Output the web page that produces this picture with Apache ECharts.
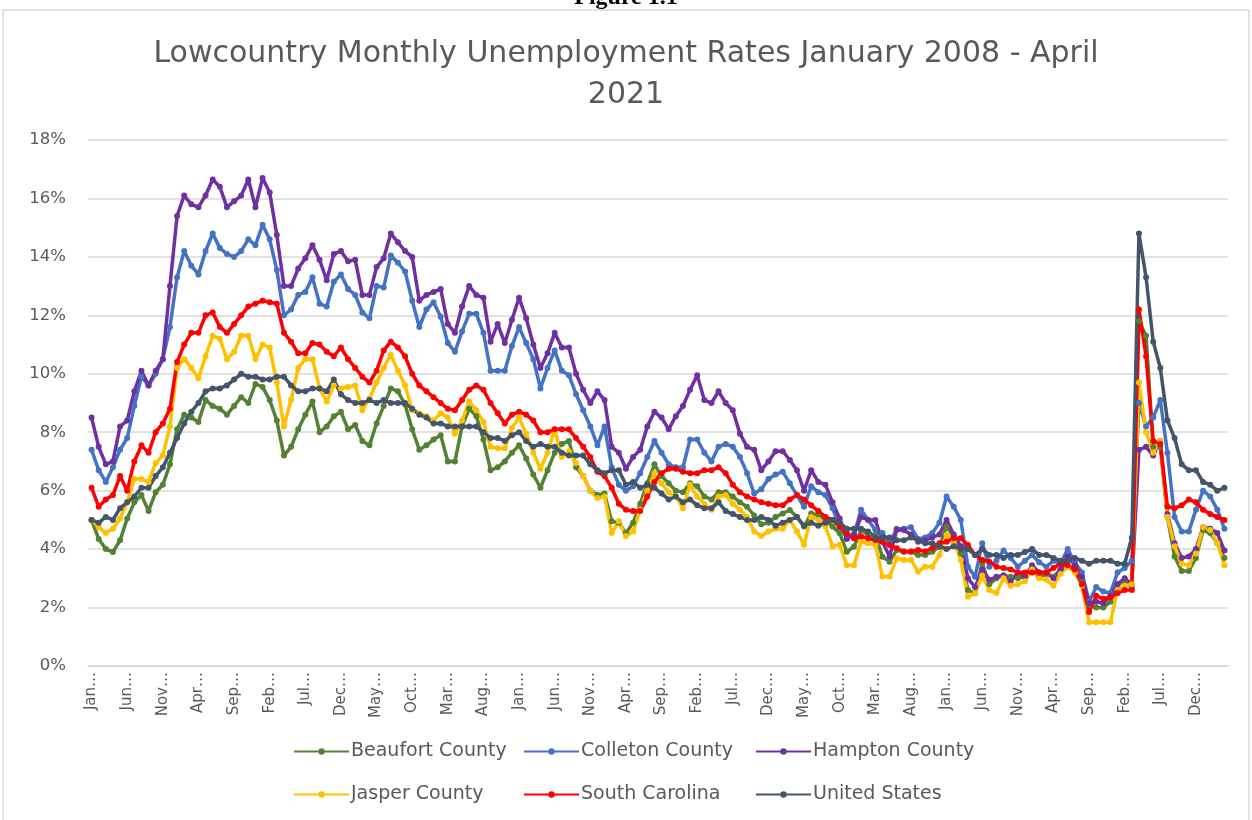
<!DOCTYPE html>
<html>
<head>
<meta charset="utf-8">
<title>Lowcountry Monthly Unemployment Rates</title>
<script src="https://cdn.jsdelivr.net/npm/echarts@6/dist/echarts.min.js"></script>
<style>
  html, body { margin: 0; padding: 0; background: #fff; }
  #chart { width: 1252px; height: 820px; }
</style>
</head>
<body>
<div id="chart"></div>
<script>
// months Jan 2008 - Apr 2021
var monthNames = ["Jan", "Feb", "Mar", "Apr", "May", "Jun", "Jul", "Aug", "Sep", "Oct", "Nov", "Dec"];
var years = ["08", "09", "10", "11", "12", "13", "14", "15", "16", "17", "18", "19", "20", "21"];
var lastMonths = 4; // 2021 stops at April

var seriesNames = ["Beaufort County", "Colleton County", "Hampton County", "Jasper County", "South Carolina", "United States"];
var seriesColors = ["#548235", "#4472C4", "#7030A0", "#FFC000", "#FF0000", "#44546A"];

// unemployment rate, percent (one row per year)
var beaufort = [
  5.0, 4.35, 4.0, 3.9, 4.3, 5.05, 5.6, 5.85, 5.3, 5.95, 6.2, 6.9,
  8.1, 8.6, 8.5, 8.35, 9.1, 8.9, 8.8, 8.6, 8.9, 9.2, 9.0, 9.65,
  9.55, 9.1, 8.4, 7.2, 7.5, 8.1, 8.6, 9.05, 8.0, 8.2, 8.55, 8.7,
  8.1, 8.25, 7.7, 7.55, 8.3, 8.9, 9.5, 9.4, 8.95, 8.1, 7.4, 7.55,
  7.75, 7.9, 7.0, 7.0, 8.2, 8.8, 8.55, 7.75, 6.7, 6.8, 7.0, 7.3,
  7.55, 7.1, 6.55, 6.1, 6.7, 7.3, 7.6, 7.7, 6.8, 6.5, 6.0, 5.85,
  5.9, 4.95, 4.9, 4.55, 4.9, 5.55, 6.25, 6.9, 6.5, 6.25, 6.0, 5.95,
  6.25, 6.15, 5.8, 5.7, 5.95, 5.95, 5.8, 5.6, 5.45, 5.15, 4.85, 4.9,
  5.1, 5.22, 5.34, 5.1, 4.77, 5.22, 5.17, 5.0, 4.77, 4.54, 3.91, 4.08,
  4.65, 4.48, 4.48, 3.74, 3.57, 3.97, 3.91, 3.91, 3.8, 3.8, 3.91, 4.08,
  4.77, 4.43, 3.86, 2.6, 2.49, 3.51, 2.8, 3.0, 3.1, 3.05, 3.0, 3.05,
  3.3, 3.05, 3.15, 3.05, 3.3, 3.4, 3.3, 2.95, 2.1, 2.0, 2.0, 2.2,
  2.8, 2.9, 2.7, 11.8, 11.3, 7.5, 7.5, 5.1, 3.75, 3.25, 3.25, 3.7,
  4.65, 4.55, 4.2, 3.7
];
var colleton = [
  7.4, 6.7, 6.3, 6.8, 7.4, 7.8, 8.9, 9.9, 9.6, 10.0, 10.5, 11.6,
  13.3, 14.2, 13.7, 13.4, 14.2, 14.8, 14.3, 14.1, 14.0, 14.2, 14.6, 14.4,
  15.1, 14.6, 13.55, 12.0, 12.2, 12.7, 12.8, 13.3, 12.4, 12.3, 13.15, 13.4,
  12.9, 12.7, 12.1, 11.9, 13.0, 12.95, 14.05, 13.8, 13.5, 12.5, 11.6, 12.2,
  12.45, 11.95, 11.05, 10.75, 11.45, 12.05, 12.05, 11.4, 10.1, 10.1, 10.1, 10.95,
  11.6, 11.05, 10.5, 9.5, 10.2, 10.8, 10.1, 9.95, 9.3, 8.75, 8.2, 7.55,
  8.2, 6.8, 6.2, 6.0, 6.15, 6.6, 7.15, 7.7, 7.3, 6.9, 6.8, 6.8,
  7.75, 7.75, 7.3, 7.0, 7.5, 7.6, 7.5, 7.15, 6.6, 5.9, 6.05, 6.4,
  6.55, 6.65, 6.25, 5.85, 5.45, 6.15, 5.95, 5.85, 5.4, 4.75, 4.4, 4.5,
  5.35, 5.0, 4.65, 4.55, 4.2, 4.7, 4.7, 4.75, 4.35, 4.4, 4.55, 4.9,
  5.8, 5.45, 5.0, 3.4, 3.05, 4.2, 3.4, 3.6, 3.95, 3.7, 3.4, 3.6,
  3.8, 3.55, 3.4, 3.6, 3.5, 4.0, 3.55, 3.2, 2.2, 2.7, 2.55, 2.5,
  3.2, 3.35, 3.6, 9.0, 8.2, 8.5, 9.1, 7.3, 5.1, 4.6, 4.6, 5.35,
  6.0, 5.8, 5.35, 4.7
];
var hampton = [
  8.5, 7.5, 6.9, 7.0, 8.2, 8.4, 9.4, 10.1, 9.6, 10.1, 10.5, 13.0,
  15.4, 16.1, 15.8, 15.7, 16.1, 16.65, 16.4, 15.7, 15.9, 16.1, 16.65, 15.7,
  16.7, 16.2, 14.75, 13.0, 13.0, 13.6, 13.95, 14.4, 13.9, 13.2, 14.1, 14.2,
  13.85, 13.9, 12.7, 12.7, 13.65, 13.95, 14.8, 14.5, 14.2, 14.0, 12.5, 12.7,
  12.8, 12.9, 11.7, 11.4, 12.3, 13.0, 12.7, 12.6, 11.1, 11.7, 11.05, 11.85,
  12.6, 11.9, 11.0, 10.2, 10.7, 11.4, 10.9, 10.9, 10.0, 9.45, 9.0, 9.4,
  9.1, 7.5, 7.3, 6.75, 7.15, 7.4, 8.2, 8.7, 8.5, 8.1, 8.55, 8.9,
  9.45, 9.95, 9.1, 9.0, 9.4, 9.0, 8.75, 7.95, 7.5, 7.4, 6.7, 7.0,
  7.35, 7.35, 7.05, 6.7, 6.0, 6.7, 6.3, 6.2, 5.6, 5.05, 4.35, 4.5,
  5.1, 5.0, 5.0, 4.25, 3.75, 4.65, 4.65, 4.5, 4.25, 4.3, 4.4, 4.5,
  5.0, 4.5, 4.1, 3.0, 2.7, 3.3, 2.95, 3.05, 3.1, 2.9, 3.2, 3.05,
  3.45, 3.2, 3.2, 3.0, 3.3, 3.75, 3.45, 3.05, 2.15, 2.2, 2.15, 2.4,
  2.8, 3.0, 2.8, 7.4, 7.5, 7.2, 7.7, 5.2, 4.2, 3.7, 3.75, 4.0,
  4.75, 4.7, 4.55, 3.95
];
var jasper = [
  5.0, 4.75, 4.55, 4.7, 5.05, 5.6, 6.4, 6.4, 6.3, 6.95, 7.2, 8.2,
  10.2, 10.5, 10.2, 9.85, 10.6, 11.3, 11.2, 10.5, 10.75, 11.3, 11.3, 10.5,
  11.0, 10.9, 9.7, 8.2, 9.1, 10.2, 10.5, 10.5, 9.5, 9.05, 9.6, 9.5,
  9.55, 9.6, 8.75, 9.15, 9.7, 10.2, 10.65, 10.1, 9.6, 8.75, 8.65, 8.55,
  8.4, 8.65, 8.5, 7.95, 8.4, 9.05, 8.75, 8.35, 7.5, 7.45, 7.45, 8.15,
  8.5, 7.95, 7.3, 6.75, 7.3, 8.1, 7.15, 7.35, 6.95, 6.5, 6.0, 5.75,
  5.8, 4.55, 4.95, 4.45, 4.6, 5.35, 6.0, 6.6, 6.25, 5.95, 5.8, 5.4,
  6.2, 5.8, 5.55, 5.35, 5.8, 5.85, 5.55, 5.35, 5.1, 4.6, 4.45, 4.6,
  4.7, 4.7, 5.0, 4.6, 4.15, 5.1, 5.0, 4.77, 4.1, 4.15, 3.45, 3.45,
  4.25, 4.2, 4.15, 3.06, 3.06, 3.68, 3.63, 3.63, 3.23, 3.4, 3.4, 3.8,
  4.48, 4.25, 3.63, 2.37, 2.49, 3.1, 2.6, 2.5, 3.0, 2.75, 2.8, 2.9,
  3.3, 3.0, 2.95, 2.75, 3.15, 3.4, 3.2, 2.75, 1.5, 1.5, 1.5, 1.5,
  2.6, 2.75, 2.8, 9.7, 8.0, 7.3, 7.7, 5.1, 4.1, 3.5, 3.45, 3.85,
  4.75, 4.65, 4.2, 3.45
];
var southCarolina = [
  6.1, 5.45, 5.7, 5.85, 6.5, 6.0, 7.0, 7.55, 7.3, 8.0, 8.3, 8.8,
  10.4, 11.0, 11.4, 11.4, 12.0, 12.1, 11.6, 11.4, 11.7, 12.0, 12.3, 12.4,
  12.5, 12.45, 12.4, 11.4, 11.1, 10.7, 10.7, 11.05, 11.0, 10.75, 10.6, 10.9,
  10.5, 10.2, 9.9, 9.7, 10.1, 10.8, 11.1, 10.9, 10.6, 10.0, 9.6, 9.4,
  9.2, 9.0, 8.8, 8.75, 9.1, 9.45, 9.6, 9.45, 9.0, 8.65, 8.3, 8.6,
  8.7, 8.6, 8.4, 8.0, 8.0, 8.1, 8.1, 8.1, 7.8, 7.5, 7.15, 6.65,
  6.5, 6.1, 5.55, 5.35, 5.3, 5.3, 5.8, 6.3, 6.6, 6.75, 6.75, 6.65,
  6.6, 6.6, 6.7, 6.7, 6.8, 6.6, 6.2, 5.95, 5.8, 5.7, 5.6, 5.55,
  5.5, 5.5, 5.7, 5.85, 5.7, 5.5, 5.3, 5.1, 5.0, 4.77, 4.54, 4.37,
  4.43, 4.37, 4.31, 4.25, 4.14, 4.03, 3.92, 3.92, 3.97, 3.92, 4.03, 4.2,
  4.25, 4.37, 4.37, 4.14, 3.8, 3.63, 3.57, 3.4, 3.35, 3.3, 3.2, 3.2,
  3.2, 3.2, 3.2, 3.35, 3.5, 3.45, 3.3, 2.8, 1.85, 2.4, 2.3, 2.35,
  2.5, 2.6, 2.6, 12.2, 10.6, 7.7, 7.6, 5.45, 5.4, 5.5, 5.7, 5.6,
  5.35, 5.2, 5.1, 5.0
];
var unitedStates = [
  5.0, 4.9, 5.1, 5.0, 5.4, 5.6, 5.8, 6.1, 6.1, 6.5, 6.8, 7.3,
  7.8, 8.3, 8.7, 9.0, 9.4, 9.5, 9.5, 9.6, 9.8, 10.0, 9.9, 9.9,
  9.8, 9.8, 9.9, 9.9, 9.6, 9.4, 9.4, 9.5, 9.5, 9.4, 9.8, 9.3,
  9.1, 9.0, 9.0, 9.1, 9.0, 9.1, 9.0, 9.0, 9.0, 8.8, 8.6, 8.5,
  8.3, 8.3, 8.2, 8.2, 8.2, 8.2, 8.2, 8.0, 7.8, 7.8, 7.7, 7.9,
  8.0, 7.7, 7.5, 7.6, 7.5, 7.5, 7.3, 7.2, 7.2, 7.2, 6.9, 6.7,
  6.6, 6.7, 6.7, 6.2, 6.3, 6.1, 6.2, 6.1, 5.9, 5.7, 5.8, 5.6,
  5.7, 5.5, 5.4, 5.4, 5.6, 5.3, 5.2, 5.1, 5.0, 5.0, 5.1, 5.0,
  4.8, 4.9, 5.0, 5.1, 4.8, 4.9, 4.8, 4.9, 5.0, 4.9, 4.7, 4.7,
  4.7, 4.6, 4.4, 4.4, 4.4, 4.3, 4.3, 4.4, 4.3, 4.2, 4.2, 4.1,
  4.0, 4.1, 4.0, 4.0, 3.8, 4.0, 3.8, 3.8, 3.7, 3.8, 3.8, 3.9,
  4.0, 3.8, 3.8, 3.7, 3.6, 3.6, 3.7, 3.6, 3.5, 3.6, 3.6, 3.6,
  3.5, 3.5, 4.4, 14.8, 13.3, 11.1, 10.2, 8.4, 7.8, 6.9, 6.7, 6.7,
  6.3, 6.2, 6.0, 6.1
];

var yTicks = { min: 0, max: 18, interval: 2 };

// category labels like "Jan-08"
var months = [];
for (var y = 0; y < years.length; y++) {
  var n = (y == years.length - 1) ? lastMonths : 12;
  for (var m = 0; m < n; m++) {
    months.push(monthNames[m] + "-" + years[y]);
  }
}

var allData = [beaufort, colleton, hampton, jasper, southCarolina, unitedStates];
var textColor = "#595959";
var font = "'DejaVu Sans', sans-serif";

var chart = echarts.init(document.getElementById("chart"), null, { renderer: "canvas" });

// Excel style legend: 3 columns x 2 rows, fixed column positions
var legendLeft = [293, 523, 755];
var legendTop = [742, 785];
var legends = [];
for (var i = 0; i < seriesNames.length; i++) {
  legends.push({
    data: [seriesNames[i]],
    left: legendLeft[i % 3],
    top: legendTop[Math.floor(i / 3)],
    itemWidth: 55,
    itemHeight: 8,
    itemGap: 0,
    padding: 0,
    selectedMode: false,
    textStyle: { color: textColor, fontSize: 19, fontFamily: font, padding: [0, 0, 0, -3] }
  });
}

var series = [];
for (var j = 0; j < seriesNames.length; j++) {
  series.push({
    name: seriesNames[j],
    type: "line",
    data: allData[j],
    symbol: "circle",
    symbolSize: 6,
    showAllSymbol: true,
    color: seriesColors[j],
    lineStyle: { width: 3.5, color: seriesColors[j] },
    itemStyle: { color: seriesColors[j] },
    animation: false
  });
}

chart.setOption({
  backgroundColor: "#fff",
  animation: false,
  title: {
    text: "Lowcountry Monthly Unemployment Rates January 2008 - April\n2021",
    left: "center",
    top: 34,
    padding: 0,
    textStyle: {
      color: textColor,
      fontSize: 30,
      fontWeight: "normal",
      fontFamily: font,
      lineHeight: 41
    }
  },
  graphic: [
    {
      type: "rect",
      shape: { x: 3, y: 10, width: 1246, height: 830 },
      style: { fill: "none", stroke: "#d9d9d9", lineWidth: 1.5 },
      silent: true
    },
    {
      type: "text",
      left: "center",
      top: -14,
      style: { text: "Figure 1.1", font: "bold 24px 'Liberation Serif', serif", fill: "#000" },
      silent: true
    }
  ],
  legend: legends,
  grid: { left: 88, right: 24, top: 140, bottom: 154 },
  xAxis: {
    type: "category",
    data: months,
    boundaryGap: true,
    axisLine: { show: true, lineStyle: { color: "#d9d9d9", width: 1.5 } },
    axisTick: { show: false },
    splitLine: { show: false },
    axisLabel: {
      interval: 4,
      rotate: 90,
      margin: 6,
      color: textColor,
      fontSize: 15,
      fontFamily: font,
      formatter: function (v) { return v.slice(0, 3) + "\u2026"; }
    }
  },
  yAxis: {
    type: "value",
    min: yTicks.min,
    max: yTicks.max,
    interval: yTicks.interval,
    axisLine: { show: false },
    axisTick: { show: false },
    splitLine: { lineStyle: { color: "#d9d9d9", width: 1.5 } },
    axisLabel: {
      margin: 22,
      color: textColor,
      fontSize: 16.5,
      fontFamily: font,
      formatter: "{value}%"
    }
  },
  series: series
});
</script>
</body>
</html>
